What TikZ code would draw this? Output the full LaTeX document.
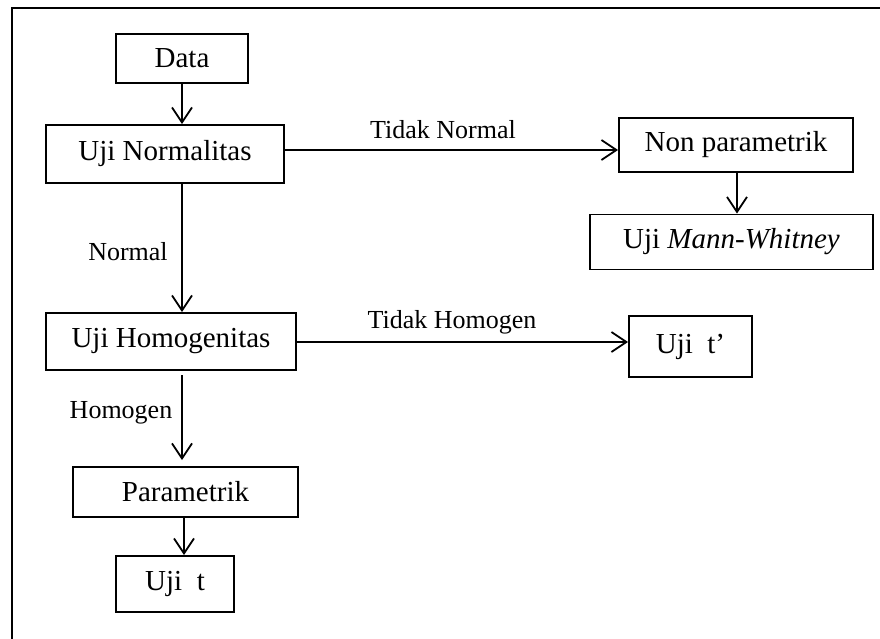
\documentclass[tikz,border=0pt]{standalone}
\usepackage{fontspec}
\setmainfont{Liberation Serif}
\usetikzlibrary{arrows.meta}
\tikzset{
  box/.style={draw, line width=1.9pt, inner sep=0pt, align=center, font=\fontsize{29}{34}\selectfont},
  lbl/.style={inner sep=0pt, font=\fontsize{26}{30}\selectfont},
  conn/.style={line width=1.8pt, -{Straight Barb[length=15pt,width=20pt,line width=1.8pt]}},
}
\begin{document}
\begin{tikzpicture}[x=1pt,y=-1pt]
\clip (0,0) rectangle (880,638);
\useasboundingbox (0,0) rectangle (880,638);
% frame
\draw[line width=2.4pt] (12,645) -- (12,8) -- (890,8);
% nodes
\node[box, minimum width=132pt, minimum height=49pt] (data) at (182,58.5) {Data};
\node[box, minimum width=238pt, minimum height=58pt] (un) at (165,154) {Uji Normalitas};
\node[box, minimum width=250pt, minimum height=57pt] (uh) at (171,341.5) {Uji Homogenitas};
\node[box, minimum width=225pt, minimum height=50pt] (par) at (185.5,492) {Parametrik};
\node[box, minimum width=118pt, minimum height=56pt] (ujit) at (175,584) {Uji\ \ t};
\node[box, minimum width=234pt, minimum height=54pt] (np) at (736,145) {Non parametrik};
\node[box, minimum width=283pt, minimum height=55pt] (mw) at (731.5,242) {Uji \textit{Mann-Whitney}};
\node[box, minimum width=123pt, minimum height=61pt] (ujitp) at (690.5,346.5) {Uji\ \ t’};
% labels
\node[lbl] (ltn) at (443,130) {Tidak Normal};
\node[lbl] (ln) at (128,252) {Normal};
\node[lbl] (lth) at (452,322) {Tidak Homogen};
\node[lbl] (lh) at (121,413) {Homogen};
% connectors
\coordinate (a1) at (182,83);
\draw[conn] (a1) -- (a1 |- un.north);
\coordinate (a2) at (182,183);
\draw[conn] (a2) -- (a2 |- uh.north);
\coordinate (b1) at (284,150);
\draw[conn] (b1) -- (b1 -| np.west);
\coordinate (b2) at (296,342);
\draw[conn] (b2) -- (b2 -| ujitp.west);
\coordinate (c1) at (182,375);
\coordinate (c2) at (182,460);
\draw[conn] (c1) -- (c2);
\coordinate (d1) at (184,517);
\draw[conn] (d1) -- (d1 |- ujit.north);
\coordinate (e1) at (737,172);
\draw[conn] (e1) -- (e1 |- mw.north);
\end{tikzpicture}
\end{document}
